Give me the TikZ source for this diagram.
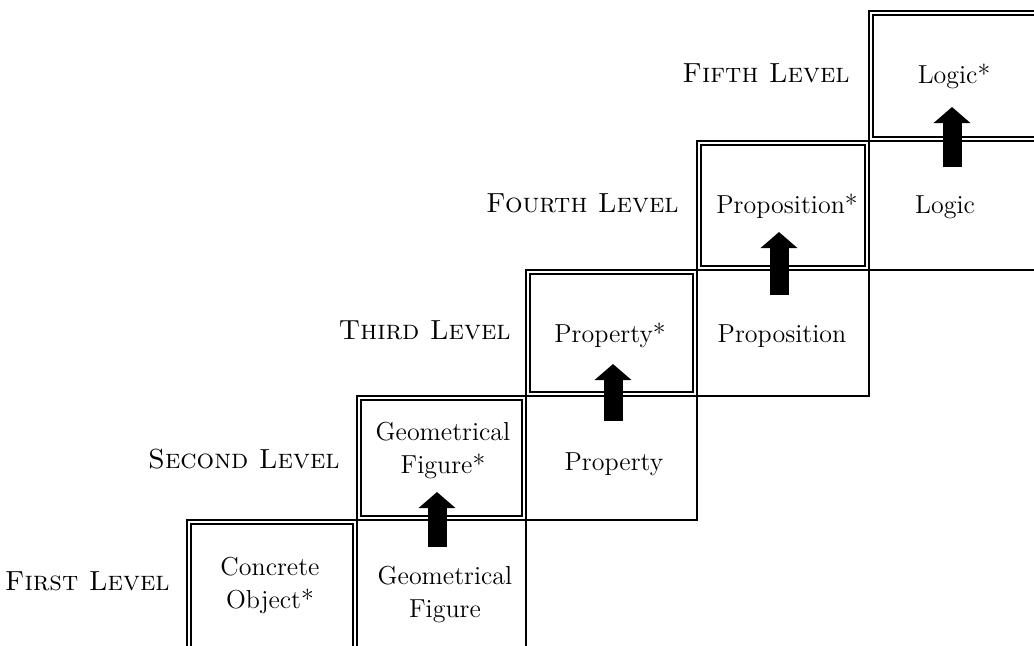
\documentclass[tikz,border=0pt]{standalone}
\usetikzlibrary{arrows.meta,fit}
\begin{document}
\begin{tikzpicture}[x=0.5pt,y=-0.5pt,
  cellbox/.style={draw, line width=1.1pt, inner sep=0pt, outer sep=0pt},
  starbox/.style={draw, double, line width=0.8pt, double distance=1.3pt, inner sep=0pt, outer sep=0pt},
  txt/.style={font=\fontsize{13}{16.5}\selectfont, align=center, inner sep=0pt},
  lvl/.style={font=\fontsize{13.8}{16.5}\selectfont\scshape, anchor=base east, inner sep=0pt},
  up/.style={line width=9.5pt, -{Triangle[width=18pt,length=8pt]}}]
\useasboundingbox (0,0) rectangle (1034,645);
\clip (0,0) rectangle (1034,645);
% unstarred cells
\node[cellbox, fit={(357,520) (526,660)}] (u1) {};
\node[cellbox, fit={(526,396) (697,520)}] (u2) {};
\node[cellbox, fit={(697,270) (869,396)}] (u3) {};
\node[cellbox, fit={(869,141) (1060,270)}] (u4) {};
% starred cells (double border)
\node[starbox, fit={(189.1,522.1) (354.9,657.9)}] (s1) {};
\node[starbox, fit={(359.1,398.1) (523.9,517.9)}] (s2) {};
\node[starbox, fit={(528.1,272.1) (694.9,393.9)}] (s3) {};
\node[starbox, fit={(699.1,143.1) (866.9,267.9)}] (s4) {};
\node[starbox, fit={(871.1,13.1) (1057.9,138.9)}] (s5) {};
% level labels
\node[lvl] (l1) at (170,590) {First Level};
\node[lvl] (l2) at (340,468) {Second Level};
\node[lvl] (l3) at (511,339) {Third Level};
\node[lvl] (l4) at (679,212) {Fourth Level};
\node[lvl] (l5) at (850,82) {Fifth Level};
% cell texts
\node[txt] (t1) at (270,585) {Concrete\\Object*};
\node[txt] (t2) at (443,450) {Geometrical\\Figure*};
\node[txt, anchor=base] (t3) at (610,342) {Property*};
\node[txt, anchor=base] (t4) at (787,213) {Proposition*};
\node[txt, anchor=base] (t5) at (954,83) {Logic*};
\node[txt] (v1) at (445,594) {Geometrical\\Figure};
\node[txt, anchor=base] (v2) at (614,470) {Property};
\node[txt, anchor=base] (v3) at (782,342) {Proposition};
\node[txt, anchor=base] (v4) at (945,213) {Logic};
% arrows
\coordinate (a1s) at (437,547); \coordinate (a1e) at (437,492);
\coordinate (a2s) at (613,421); \coordinate (a2e) at (613,364);
\coordinate (a3s) at (779,295); \coordinate (a3e) at (779,232);
\coordinate (a4s) at (952,167); \coordinate (a4e) at (952,107);
\draw[up] (a1s) -- (a1e);
\draw[up] (a2s) -- (a2e);
\draw[up] (a3s) -- (a3e);
\draw[up] (a4s) -- (a4e);
\end{tikzpicture}
\end{document}
